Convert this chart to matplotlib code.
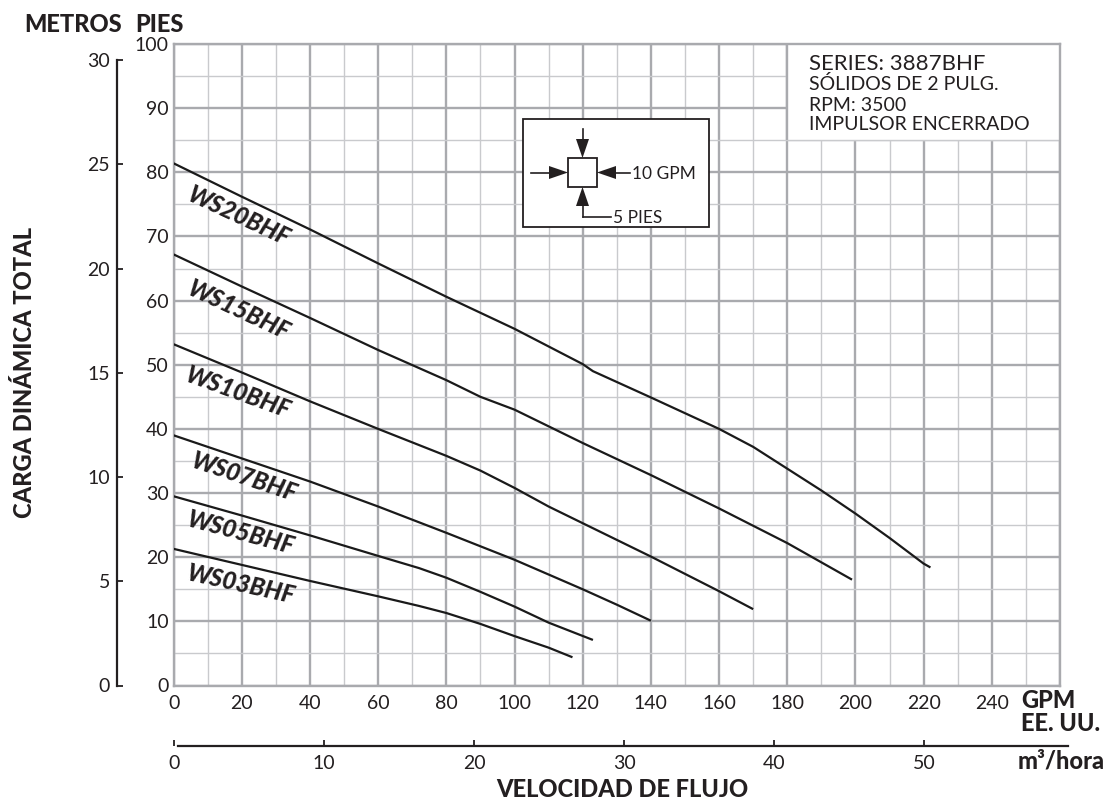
import matplotlib
matplotlib.use("Agg")
import matplotlib.pyplot as plt
from matplotlib.patches import Rectangle, Polygon
from matplotlib.lines import Line2D

plt.rcParams['font.family'] = ['Lato', 'DejaVu Sans']

# ---------------- data ----------------
gpm_ticks = list(range(0, 241, 20))
ft_ticks = list(range(0, 101, 10))
m_ticks = list(range(0, 31, 5))
m3_ticks = list(range(0, 51, 10))

ws20_q = [0, 20, 40, 60, 80, 100, 120, 123, 140, 160, 170, 180, 190, 200, 210, 220, 222]
ws20_h = [81.4, 76.2, 71.1, 65.8, 60.6, 55.6, 50.1, 49.0, 44.9, 40.0, 37.2, 33.8, 30.4, 26.8, 23.0, 19.0, 18.4]

ws15_q = [0, 20, 40, 60, 80, 90, 97, 100, 120, 140, 160, 180, 199]
ws15_h = [67.2, 62.2, 57.3, 52.3, 47.6, 45.0, 43.6, 43.0, 37.8, 32.8, 27.6, 22.2, 16.5]

ws10_q = [0, 20, 40, 60, 80, 90, 100, 110, 120, 140, 160, 170]
ws10_h = [53.2, 48.8, 44.3, 40.0, 35.8, 33.5, 30.8, 27.9, 25.3, 20.1, 14.7, 11.9]

ws07_q = [0, 20, 40, 60, 80, 100, 120, 130, 140]
ws07_h = [39.0, 35.4, 31.8, 27.9, 23.8, 19.6, 15.0, 12.6, 10.1]

ws05_q = [0, 20, 40, 60, 72, 80, 90, 100, 110, 123]
ws05_h = [29.5, 26.5, 23.4, 20.2, 18.3, 16.8, 14.6, 12.3, 9.8, 7.1]

ws03_q = [0, 20, 40, 60, 72, 80, 90, 100, 110, 117]
ws03_h = [21.3, 18.8, 16.3, 13.9, 12.4, 11.3, 9.6, 7.7, 5.9, 4.4]

models = ['WS20BHF', 'WS15BHF', 'WS10BHF', 'WS07BHF', 'WS05BHF', 'WS03BHF']
curves_q = [ws20_q, ws15_q, ws10_q, ws07_q, ws05_q, ws03_q]
curves_h = [ws20_h, ws15_h, ws10_h, ws07_h, ws05_h, ws03_h]
label_q = [19.2, 19.2, 18.9, 20.6, 19.8, 19.8]
label_h = [73.2, 58.5, 45.7, 32.5, 23.8, 15.8]
label_rot = [-25, -25, -20, -18.5, -15, -12.5]

info_lines = ['SERIES: 3887BHF', 'SÓLIDOS DE 2 PULG.', 'RPM: 3500', 'IMPULSOR ENCERRADO']

# ---------------- layout ----------------
W, H = 1110, 799
TXT = '#231f20'
MAJ = '#a9aaae'
MIN = '#c9cacd'

def fx(x):
    return x / W

def fy(y):
    return 1 - y / H

fig = plt.figure(figsize=(W / 100, H / 100), dpi=100)
fig.patch.set_facecolor('white')

L, R, T, B = 173.6, 1060.0, 44.0, 685.5
ax = fig.add_axes([fx(L), fy(B), (R - L) / W, (B - T) / H])
ax.set_xlim(0, 260)
ax.set_ylim(0, 100)
ax.set_xticks(list(range(0, 261, 20)))
ax.set_xticklabels([str(v) for v in gpm_ticks] + [''])
ax.set_xticks(list(range(10, 260, 20)), minor=True)
ax.set_yticks(ft_ticks)
ax.set_yticklabels([str(v) for v in ft_ticks])
ax.set_yticks(list(range(5, 100, 10)), minor=True)
ax.set_axisbelow(True)
ax.grid(which='major', color=MAJ, lw=1.7)
ax.grid(which='minor', color=MIN, lw=1.0)
ax.tick_params(which='both', length=0, labelsize=14, colors=TXT)
ax.tick_params(axis='x', pad=6.5)
ax.tick_params(axis='y', pad=3.5)
for s in ax.spines.values():
    s.set_color(MAJ)
    s.set_linewidth(1.7)

# white info box over the grid
ax.add_patch(Rectangle((180, 85), 80, 15, facecolor='white', edgecolor='none', zorder=1))
ax.plot([180, 180], [85, 100], color=MAJ, lw=1.7, zorder=1.1, solid_capstyle='butt')
ax.plot([180, 260], [85, 85], color=MIN, lw=1.0, zorder=1.1, solid_capstyle='butt')

for q, h in zip(curves_q, curves_h):
    ax.plot(q, h, color='#1a1a1a', lw=1.6, zorder=3, solid_capstyle='butt')

for name, lq, lh, rot in zip(models, label_q, label_h, label_rot):
    ax.text(lq, lh, name, rotation=rot, rotation_mode='anchor', ha='center', va='center',
            fontsize=17.5, fontweight='black', fontstyle='italic', color=TXT, zorder=4)

# meters axis
axm = fig.add_axes([fx(L), fy(B), (R - L) / W, (B - T) / H], facecolor='none')
axm.set_ylim(0, 30.77)
axm.set_xlim(0, 1)
axm.xaxis.set_visible(False)
for k in ['top', 'right', 'bottom']:
    axm.spines[k].set_visible(False)
axm.spines['left'].set_position(('outward', (L - 117) * 0.72))
axm.spines['left'].set_bounds(0, 30)
axm.spines['left'].set_color(TXT)
axm.spines['left'].set_linewidth(1.6)
axm.set_yticks(m_ticks)
axm.set_yticklabels([str(v) for v in m_ticks])
axm.tick_params(axis='y', direction='in', length=4.5, width=1.3, labelsize=14,
                colors=TXT, pad=5)

# m3/hora axis
axq = fig.add_axes([fx(174), fy(746), (1068 - 174) / W, 1 / H], facecolor='none')
axq.set_xlim(0, 59.6)
axq.yaxis.set_visible(False)
for k in ['top', 'right', 'left']:
    axq.spines[k].set_visible(False)
axq.spines['bottom'].set_color(TXT)
axq.spines['bottom'].set_linewidth(1.6)
axq.spines['bottom'].set_bounds(0.27, 59.6)
axq.set_xticks(m3_ticks)
axq.set_xticklabels([str(v) for v in m3_ticks])
axq.tick_params(axis='x', direction='in', length=4.5, width=1.3, labelsize=14,
                colors=TXT, pad=6.5)

# overlay for texts / inset
axo = fig.add_axes([0, 0, 1, 1], facecolor='none')
axo.set_xlim(0, W)
axo.set_ylim(H, 0)
axo.axis('off')

bold = dict(fontsize=17, fontweight='black', color=TXT)
axo.text(24, 31.7, 'METROS', ha='left', va='baseline', **bold)
axo.text(135, 31.7, 'PIES', ha='left', va='baseline', **bold)
axo.text(1021, 708.3, 'GPM', ha='left', va='baseline', **bold)
axo.text(1021, 730.7, 'EE. UU.', ha='left', va='baseline', **bold)
axo.text(1018, 768.3, 'm³/hora', ha='left', va='baseline', **bold)
axo.text(622, 797, 'VELOCIDAD DE FLUJO', ha='center', va='baseline', **bold)
axo.text(31.7, 372, 'CARGA DINÁMICA TOTAL', rotation=90, rotation_mode='anchor',
         ha='center', va='baseline', **bold)

info_base = [70.5, 90.5, 111.0, 130.0]
info_size = [16, 14, 14, 14]
for s, yb, fs in zip(info_lines, info_base, info_size):
    axo.text(809, yb, s, ha='left', va='baseline', fontsize=fs, color=TXT)

# inset diagram
axo.add_patch(Rectangle((523, 119), 186, 108, facecolor='white', edgecolor=TXT, lw=1.3, zorder=5))
axo.add_patch(Rectangle((568, 158), 29, 29, facecolor='white', edgecolor=TXT, lw=1.3, zorder=6))

def arrow(x0, y0, x1, y1, hl=19, hw=6.5):
    dx, dy = x1 - x0, y1 - y0
    n = (dx * dx + dy * dy) ** 0.5
    ux, uy = dx / n, dy / n
    bx, by = x1 - ux * hl, y1 - uy * hl
    axo.add_line(Line2D([x0, bx], [y0, by], color=TXT, lw=1.2, zorder=6))
    axo.add_patch(Polygon([(x1, y1), (bx - uy * hw, by + ux * hw), (bx + uy * hw, by - ux * hw)],
                          closed=True, facecolor=TXT, edgecolor='none', zorder=6))

cx, cy = 582.5, 172.5
arrow(cx, 129, cx, 158)
arrow(530.6, cy, 568, cy)
arrow(630, cy, 597, cy)
arrow(cx, 216.7, cx, 187)
axo.add_line(Line2D([cx, 611], [216.7, 216.7], color=TXT, lw=1.2, zorder=6))
axo.text(632, 179.3, '10 GPM', ha='left', va='baseline', fontsize=12.5, color=TXT, zorder=7)
axo.text(613, 222.7, '5 PIES', ha='left', va='baseline', fontsize=12.5, color=TXT, zorder=7)

fig.savefig('out.png', dpi=100, facecolor='white')
